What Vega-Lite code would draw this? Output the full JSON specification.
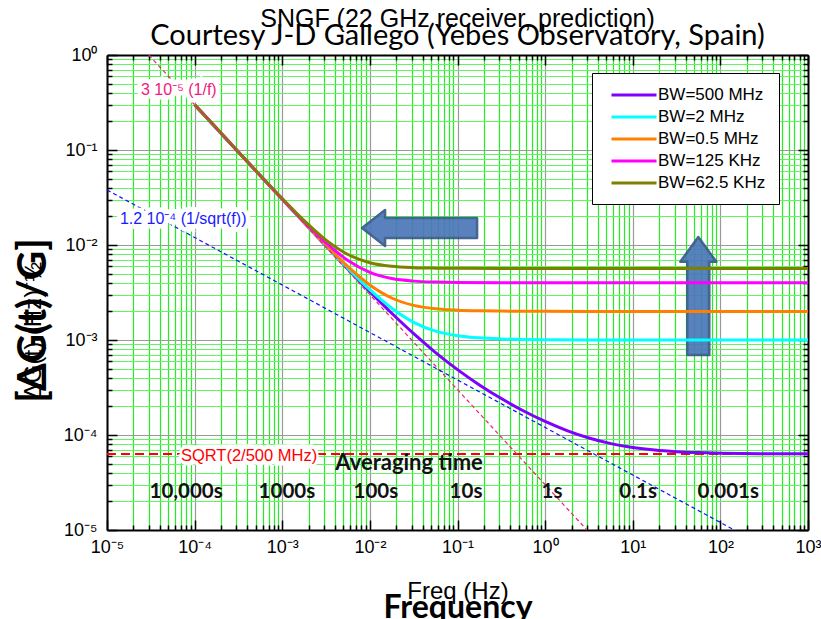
{
  "$schema": "https://vega.github.io/schema/vega-lite/v6.json",
  "width": 701,
  "height": 475,
  "autosize": {"type": "none"},
  "padding": {"left": 107, "top": 55, "right": 13, "bottom": 89},
  "background": "white",
  "config": {"view": {"stroke": null}},
  "title": {
    "text": "SNGF (22 GHz receiver, prediction)",
    "subtitle": "Courtesy J-D Gallego (Yebes Observatory, Spain)",
    "font": "Liberation Sans",
    "fontSize": 25,
    "fontWeight": "normal",
    "color": "black",
    "subtitleFont": "Lato",
    "subtitleFontSize": 29,
    "subtitleColor": "black",
    "subtitlePadding": -10,
    "offset": -5,
    "anchor": "middle"
  },
  "datasets": {
    "curves": [
      {"f": 0.0001, "v": 0.3002, "bw": "BW=500 MHz"},
      {"f": 0.0001778, "v": 0.1689, "bw": "BW=500 MHz"},
      {"f": 0.0003162, "v": 0.09511, "bw": "BW=500 MHz"},
      {"f": 0.0005623, "v": 0.05359, "bw": "BW=500 MHz"},
      {"f": 0.001, "v": 0.03024, "bw": "BW=500 MHz"},
      {"f": 0.001778, "v": 0.01711, "bw": "BW=500 MHz"},
      {"f": 0.003162, "v": 0.009724, "bw": "BW=500 MHz"},
      {"f": 0.005623, "v": 0.00557, "bw": "BW=500 MHz"},
      {"f": 0.01, "v": 0.003231, "bw": "BW=500 MHz"},
      {"f": 0.01778, "v": 0.001912, "bw": "BW=500 MHz"},
      {"f": 0.03162, "v": 0.001166, "bw": "BW=500 MHz"},
      {"f": 0.05623, "v": 0.000738, "bw": "BW=500 MHz"},
      {"f": 0.1, "v": 0.000488, "bw": "BW=500 MHz"},
      {"f": 0.1778, "v": 0.0003368, "bw": "BW=500 MHz"},
      {"f": 0.3162, "v": 0.0002419, "bw": "BW=500 MHz"},
      {"f": 0.5623, "v": 0.0001801, "bw": "BW=500 MHz"},
      {"f": 1, "v": 0.0001389, "bw": "BW=500 MHz"},
      {"f": 1.778, "v": 0.0001113, "bw": "BW=500 MHz"},
      {"f": 3.162, "v": 0.00009295, "bw": "BW=500 MHz"},
      {"f": 5.623, "v": 0.00008117, "bw": "BW=500 MHz"},
      {"f": 10, "v": 0.00007382, "bw": "BW=500 MHz"},
      {"f": 17.78, "v": 0.00006936, "bw": "BW=500 MHz"},
      {"f": 31.62, "v": 0.00006675, "bw": "BW=500 MHz"},
      {"f": 56.23, "v": 0.00006524, "bw": "BW=500 MHz"},
      {"f": 100, "v": 0.00006437, "bw": "BW=500 MHz"},
      {"f": 316.2, "v": 0.0000636, "bw": "BW=500 MHz"},
      {"f": 1000, "v": 0.00006336, "bw": "BW=500 MHz"},

      {"f": 0.0001, "v": 0.3002, "bw": "BW=2 MHz"},
      {"f": 0.0001778, "v": 0.1689, "bw": "BW=2 MHz"},
      {"f": 0.0003162, "v": 0.09511, "bw": "BW=2 MHz"},
      {"f": 0.0005623, "v": 0.0536, "bw": "BW=2 MHz"},
      {"f": 0.001, "v": 0.03026, "bw": "BW=2 MHz"},
      {"f": 0.001778, "v": 0.01714, "bw": "BW=2 MHz"},
      {"f": 0.003162, "v": 0.009775, "bw": "BW=2 MHz"},
      {"f": 0.005623, "v": 0.005659, "bw": "BW=2 MHz"},
      {"f": 0.01, "v": 0.003382, "bw": "BW=2 MHz"},
      {"f": 0.01778, "v": 0.002158, "bw": "BW=2 MHz"},
      {"f": 0.03162, "v": 0.001535, "bw": "BW=2 MHz"},
      {"f": 0.05623, "v": 0.001241, "bw": "BW=2 MHz"},
      {"f": 0.1, "v": 0.001111, "bw": "BW=2 MHz"},
      {"f": 0.1778, "v": 0.001053, "bw": "BW=2 MHz"},
      {"f": 0.3162, "v": 0.001027, "bw": "BW=2 MHz"},
      {"f": 0.5623, "v": 0.001014, "bw": "BW=2 MHz"},
      {"f": 1, "v": 0.001008, "bw": "BW=2 MHz"},
      {"f": 3.162, "v": 0.001002, "bw": "BW=2 MHz"},
      {"f": 10, "v": 0.001001, "bw": "BW=2 MHz"},
      {"f": 100, "v": 0.001, "bw": "BW=2 MHz"},
      {"f": 1000, "v": 0.001, "bw": "BW=2 MHz"},

      {"f": 0.0001, "v": 0.3003, "bw": "BW=0.5 MHz"},
      {"f": 0.0001778, "v": 0.169, "bw": "BW=0.5 MHz"},
      {"f": 0.0003162, "v": 0.09513, "bw": "BW=0.5 MHz"},
      {"f": 0.0005623, "v": 0.05362, "bw": "BW=0.5 MHz"},
      {"f": 0.001, "v": 0.03031, "bw": "BW=0.5 MHz"},
      {"f": 0.001778, "v": 0.01722, "bw": "BW=0.5 MHz"},
      {"f": 0.003162, "v": 0.009927, "bw": "BW=0.5 MHz"},
      {"f": 0.005623, "v": 0.005918, "bw": "BW=0.5 MHz"},
      {"f": 0.01, "v": 0.0038, "bw": "BW=0.5 MHz"},
      {"f": 0.01778, "v": 0.002767, "bw": "BW=0.5 MHz"},
      {"f": 0.03162, "v": 0.002314, "bw": "BW=0.5 MHz"},
      {"f": 0.05623, "v": 0.002131, "bw": "BW=0.5 MHz"},
      {"f": 0.1, "v": 0.002058, "bw": "BW=0.5 MHz"},
      {"f": 0.1778, "v": 0.002027, "bw": "BW=0.5 MHz"},
      {"f": 0.3162, "v": 0.002014, "bw": "BW=0.5 MHz"},
      {"f": 1, "v": 0.002004, "bw": "BW=0.5 MHz"},
      {"f": 10, "v": 0.002, "bw": "BW=0.5 MHz"},
      {"f": 1000, "v": 0.002, "bw": "BW=0.5 MHz"},

      {"f": 0.0001, "v": 0.3003, "bw": "BW=125 KHz"},
      {"f": 0.0001778, "v": 0.169, "bw": "BW=125 KHz"},
      {"f": 0.0003162, "v": 0.09519, "bw": "BW=125 KHz"},
      {"f": 0.0005623, "v": 0.05374, "bw": "BW=125 KHz"},
      {"f": 0.001, "v": 0.0305, "bw": "BW=125 KHz"},
      {"f": 0.001778, "v": 0.01757, "bw": "BW=125 KHz"},
      {"f": 0.003162, "v": 0.01051, "bw": "BW=125 KHz"},
      {"f": 0.005623, "v": 0.006857, "bw": "BW=125 KHz"},
      {"f": 0.01, "v": 0.005142, "bw": "BW=125 KHz"},
      {"f": 0.01778, "v": 0.004434, "bw": "BW=125 KHz"},
      {"f": 0.03162, "v": 0.004166, "bw": "BW=125 KHz"},
      {"f": 0.05623, "v": 0.004067, "bw": "BW=125 KHz"},
      {"f": 0.1, "v": 0.004029, "bw": "BW=125 KHz"},
      {"f": 0.3162, "v": 0.004007, "bw": "BW=125 KHz"},
      {"f": 1, "v": 0.004002, "bw": "BW=125 KHz"},
      {"f": 10, "v": 0.004, "bw": "BW=125 KHz"},
      {"f": 1000, "v": 0.004, "bw": "BW=125 KHz"},

      {"f": 0.0001, "v": 0.3003, "bw": "BW=62.5 KHz"},
      {"f": 0.0001778, "v": 0.169, "bw": "BW=62.5 KHz"},
      {"f": 0.0003162, "v": 0.09528, "bw": "BW=62.5 KHz"},
      {"f": 0.0005623, "v": 0.05389, "bw": "BW=62.5 KHz"},
      {"f": 0.001, "v": 0.03076, "bw": "BW=62.5 KHz"},
      {"f": 0.001778, "v": 0.01802, "bw": "BW=62.5 KHz"},
      {"f": 0.003162, "v": 0.01125, "bw": "BW=62.5 KHz"},
      {"f": 0.005623, "v": 0.007939, "bw": "BW=62.5 KHz"},
      {"f": 0.01, "v": 0.006515, "bw": "BW=62.5 KHz"},
      {"f": 0.01778, "v": 0.005971, "bw": "BW=62.5 KHz"},
      {"f": 0.03162, "v": 0.005775, "bw": "BW=62.5 KHz"},
      {"f": 0.05623, "v": 0.005704, "bw": "BW=62.5 KHz"},
      {"f": 0.1, "v": 0.005678, "bw": "BW=62.5 KHz"},
      {"f": 0.3162, "v": 0.005661, "bw": "BW=62.5 KHz"},
      {"f": 1, "v": 0.005658, "bw": "BW=62.5 KHz"},
      {"f": 10, "v": 0.005657, "bw": "BW=62.5 KHz"},
      {"f": 1000, "v": 0.005657, "bw": "BW=62.5 KHz"}
    ],
    "sqrtline": [{"f": 0.00001, "v": 0.0000632}, {"f": 1000, "v": 0.0000632}],
    "oneoverf": [{"f": 0.00003, "v": 1}, {"f": 3, "v": 0.00001}],
    "oneoversqrt": [{"f": 0.00001, "v": 0.03795}, {"f": 144, "v": 0.00001}],
    "notes": [
      {"t": "3 10⁻⁵ (1/f)", "f": 0.000066, "v": 0.428},
      {"t": "1.2 10⁻⁴ (1/sqrt(f))", "f": 0.000074, "v": 0.0188},
      {"t": "SQRT(2/500 MHz)", "f": 0.000418, "v": 0.00006}
    ],
    "avg": [
      {"t": "10,000s", "f": 0.00008, "v": 0.000025},
      {"t": "1000s", "f": 0.00113, "v": 0.000025},
      {"t": "100s", "f": 0.0117, "v": 0.000025},
      {"t": "10s", "f": 0.125, "v": 0.000025},
      {"t": "1s", "f": 1.2, "v": 0.000025},
      {"t": "0.1s", "f": 11.5, "v": 0.000025},
      {"t": "0.001s", "f": 123, "v": 0.000025}
    ]
  },
  "layer": [
    {
      "data": {"values": [{"f": 0.0369, "v": 0.0151}]},
      "mark": {"type": "point", "shape": "M-1,0 L-0.6,-0.313 L-0.6,-0.174 L1,-0.174 L1,0.174 L-0.6,0.174 L-0.6,0.313 Z", "size": 13225, "filled": true, "fill": "#4a77b8", "stroke": "#37598a", "strokeWidth": 2.5, "strokeJoin": "round", "opacity": 0.92},
      "encoding": {
        "x": {"field": "f", "type": "quantitative", "scale": {"type": "log", "domain": [0.00001, 1000], "nice": false}, "axis": null},
        "y": {"field": "v", "type": "quantitative", "scale": {"type": "log", "domain": [0.00001, 1], "nice": false}, "axis": null}
      }
    },
    {
      "data": {"values": [{"f": 56, "v": 0.0029}]},
      "mark": {"type": "point", "shape": "M0,-1 L0.305,-0.58 L0.186,-0.58 L0.186,1 L-0.186,1 L-0.186,-0.58 L-0.305,-0.58 Z", "size": 13924, "filled": true, "fill": "#4a77b8", "stroke": "#37598a", "strokeWidth": 2.5, "strokeJoin": "round", "opacity": 0.92},
      "encoding": {
        "x": {"field": "f", "type": "quantitative", "scale": {"type": "log", "domain": [0.00001, 1000], "nice": false}, "axis": null},
        "y": {"field": "v", "type": "quantitative", "scale": {"type": "log", "domain": [0.00001, 1], "nice": false}, "axis": null}
      }
    },
    {
      "data": {"name": "sqrtline"},
      "mark": {"type": "line", "color": "#ff0000", "strokeWidth": 2, "strokeDash": [9, 5]},
      "encoding": {
        "x": {"field": "f", "type": "quantitative", "scale": {"type": "log", "domain": [0.00001, 1000], "nice": false},
          "axis": {
            "orient": "top",
            "values": [0.00001,0.00002,0.00003,0.00004,0.00005,0.00006,0.00007,0.00008,0.00009,0.0001,0.0002,0.0003,0.0004,0.0005,0.0006,0.0007,0.0008,0.0009,0.001,0.002,0.003,0.004,0.005,0.006,0.007,0.008,0.009,0.01,0.02,0.03,0.04,0.05,0.06,0.07,0.08,0.09,0.1,0.2,0.3,0.4,0.5,0.6,0.7,0.8,0.9,1,2,3,4,5,6,7,8,9,10,20,30,40,50,60,70,80,90,100,200,300,400,500,600,700,800,900,1000],
            "labels": false,
            "grid": false,
            "tickColor": "black",
            "tickWidth": 1.5,
            "tickSize": {"condition": {"test": "abs(log(datum.value)/LN10 - round(log(datum.value)/LN10)) < 0.001", "value": -10}, "value": -5},
            "domainColor": "black",
            "domainWidth": 2,
            "title": "Freq (Hz)",
            "titleFont": "Liberation Sans",
            "titleFontSize": 24,
            "titleFontWeight": "normal",
            "titleColor": "black",
            "titleY": 543,
            "titleBaseline": "alphabetic"
          }
        },
        "y": {"field": "v", "type": "quantitative", "scale": {"type": "log", "domain": [0.00001, 1], "nice": false},
          "axis": {
            "orient": "right",
            "values": [0.00001,0.00002,0.00003,0.00004,0.00005,0.00006,0.00007,0.00008,0.00009,0.0001,0.0002,0.0003,0.0004,0.0005,0.0006,0.0007,0.0008,0.0009,0.001,0.002,0.003,0.004,0.005,0.006,0.007,0.008,0.009,0.01,0.02,0.03,0.04,0.05,0.06,0.07,0.08,0.09,0.1,0.2,0.3,0.4,0.5,0.6,0.7,0.8,0.9,1],
            "labels": false,
            "grid": false,
            "tickColor": "black",
            "tickWidth": 1.5,
            "tickSize": {"condition": {"test": "abs(log(datum.value)/LN10 - round(log(datum.value)/LN10)) < 0.001", "value": -10}, "value": -5},
            "domainColor": "black",
            "domainWidth": 2,
            "title": "ΔG(t) (Hz)⁻½",
            "titleFont": "Liberation Sans",
            "titleFontSize": 24,
            "titleFontWeight": "normal",
            "titleColor": "black",
            "titleAngle": -90,
            "titleX": -775,
            "titleY": 275,
            "titleBaseline": "middle",
            "titleAlign": "center"
          }
        }
      }
    },
    {
      "data": {"name": "curves"},
      "mark": {"type": "line", "strokeWidth": 3, "interpolate": "monotone"},
      "encoding": {
        "x": {"field": "f", "type": "quantitative", "scale": {"type": "log", "domain": [0.00001, 1000], "nice": false},
          "axis": {
            "orient": "bottom",
            "values": [0.00001,0.00002,0.00003,0.00004,0.00005,0.00006,0.00007,0.00008,0.00009,0.0001,0.0002,0.0003,0.0004,0.0005,0.0006,0.0007,0.0008,0.0009,0.001,0.002,0.003,0.004,0.005,0.006,0.007,0.008,0.009,0.01,0.02,0.03,0.04,0.05,0.06,0.07,0.08,0.09,0.1,0.2,0.3,0.4,0.5,0.6,0.7,0.8,0.9,1,2,3,4,5,6,7,8,9,10,20,30,40,50,60,70,80,90,100,200,300,400,500,600,700,800,900,1000],
            "labelExpr": "abs(log(datum.value)/LN10 - round(log(datum.value)/LN10)) < 0.001 ? ['10⁻⁵','10⁻⁴','10⁻³','10⁻²','10⁻¹','10⁰','10¹','10²','10³'][round(log(datum.value)/LN10)+5] : ''",
            "labelFont": "Liberation Sans",
            "labelFontSize": 18,
            "labelColor": "black",
            "labelPadding": 18,
            "labelFlush": false,
            "labelOverlap": false,
            "labelBound": false,
            "grid": true,
            "gridColor": {"condition": {"test": "abs(log(datum.value)/LN10 - round(log(datum.value)/LN10)) < 0.001", "value": "#999999"}, "value": "#22ee22"},
            "gridWidth": 1.2,
            "tickColor": "black",
            "tickWidth": 1.5,
            "tickSize": {"condition": {"test": "abs(log(datum.value)/LN10 - round(log(datum.value)/LN10)) < 0.001", "value": -10}, "value": -5},
            "domainColor": "black",
            "domainWidth": 2,
            "title": "Frequency",
            "titleFont": "Lato",
            "titleFontSize": 32,
            "titleFontWeight": "bold",
            "titleColor": "black",
            "titleY": 87,
            "titleBaseline": "alphabetic"
          }
        },
        "y": {"field": "v", "type": "quantitative", "scale": {"type": "log", "domain": [0.00001, 1], "nice": false},
          "axis": {
            "orient": "left",
            "values": [0.00001,0.00002,0.00003,0.00004,0.00005,0.00006,0.00007,0.00008,0.00009,0.0001,0.0002,0.0003,0.0004,0.0005,0.0006,0.0007,0.0008,0.0009,0.001,0.002,0.003,0.004,0.005,0.006,0.007,0.008,0.009,0.01,0.02,0.03,0.04,0.05,0.06,0.07,0.08,0.09,0.1,0.2,0.3,0.4,0.5,0.6,0.7,0.8,0.9,1],
            "labelExpr": "abs(log(datum.value)/LN10 - round(log(datum.value)/LN10)) < 0.001 ? ['10⁻⁵','10⁻⁴','10⁻³','10⁻²','10⁻¹','10⁰'][round(log(datum.value)/LN10)+5] : ''",
            "labelFont": "Liberation Sans",
            "labelFontSize": 18,
            "labelColor": "black",
            "labelPadding": 20,
            "labelFlush": false,
            "labelOverlap": false,
            "labelBound": false,
            "grid": true,
            "gridColor": {"condition": {"test": "abs(log(datum.value)/LN10 - round(log(datum.value)/LN10)) < 0.001", "value": "#999999"}, "value": "#5ef55e"},
            "gridWidth": 1.2,
            "tickColor": "black",
            "tickWidth": 1.5,
            "tickSize": {"condition": {"test": "abs(log(datum.value)/LN10 - round(log(datum.value)/LN10)) < 0.001", "value": -10}, "value": -5},
            "domainColor": "black",
            "domainWidth": 2,
            "title": "[ΔG(t)/G]",
            "titleFont": "Lato",
            "titleFontSize": 40,
            "titleFontWeight": "bold",
            "titleColor": "black",
            "titleAngle": -90,
            "titleX": -74,
            "titleY": 265,
            "titleBaseline": "middle",
            "titleAlign": "center"
          }
        },
        "color": {
          "field": "bw",
          "type": "nominal",
          "sort": ["BW=500 MHz", "BW=2 MHz", "BW=0.5 MHz", "BW=125 KHz", "BW=62.5 KHz"],
          "scale": {"domain": ["BW=500 MHz", "BW=2 MHz", "BW=0.5 MHz", "BW=125 KHz", "BW=62.5 KHz"], "range": ["#8000ff", "#00ffff", "#ff8000", "#ff00ff", "#808000"]},
          "legend": {
            "orient": "none",
            "legendX": 485,
            "legendY": 18,
            "title": null,
            "fillColor": "white",
            "strokeColor": "black",
            "padding": 13,
            "symbolType": "M-3,0H3",
            "symbolSize": 225,
            "symbolStrokeWidth": 3,
            "symbolOffset": 20,
            "labelOffset": 15,
            "labelFont": "Liberation Sans",
            "labelFontSize": 17,
            "labelColor": "black",
            "rowPadding": 5
          }
        }
      }
    },
    {
      "data": {"name": "oneoverf"},
      "mark": {"type": "line", "color": "#f0207a", "strokeWidth": 1.2, "strokeDash": [4, 3]},
      "encoding": {
        "x": {"field": "f", "type": "quantitative", "scale": {"type": "log", "domain": [0.00001, 1000], "nice": false}, "axis": null},
        "y": {"field": "v", "type": "quantitative", "scale": {"type": "log", "domain": [0.00001, 1], "nice": false}, "axis": null}
      }
    },
    {
      "data": {"name": "oneoversqrt"},
      "mark": {"type": "line", "color": "#1010ff", "strokeWidth": 1.2, "strokeDash": [4, 3]},
      "encoding": {
        "x": {"field": "f", "type": "quantitative", "scale": {"type": "log", "domain": [0.00001, 1000], "nice": false}, "axis": null},
        "y": {"field": "v", "type": "quantitative", "scale": {"type": "log", "domain": [0.00001, 1], "nice": false}, "axis": null}
      }
    },
    {
      "data": {"name": "notes"},
      "mark": {"type": "text", "font": "Liberation Sans", "fontSize": 16, "fill": "white", "stroke": "white", "strokeWidth": 9, "strokeJoin": "miter"},
      "encoding": {
        "x": {"field": "f", "type": "quantitative", "scale": {"type": "log", "domain": [0.00001, 1000], "nice": false}, "axis": null},
        "y": {"field": "v", "type": "quantitative", "scale": {"type": "log", "domain": [0.00001, 1], "nice": false}, "axis": null},
        "text": {"field": "t"}
      }
    },
    {
      "data": {"values": [{"t": "3 10⁻⁵ (1/f)", "f": 0.000066, "v": 0.428}]},
      "mark": {"type": "text", "font": "Liberation Sans", "fontSize": 16, "color": "#f0207a"},
      "encoding": {
        "x": {"field": "f", "type": "quantitative", "scale": {"type": "log", "domain": [0.00001, 1000], "nice": false}, "axis": null},
        "y": {"field": "v", "type": "quantitative", "scale": {"type": "log", "domain": [0.00001, 1], "nice": false}, "axis": null},
        "text": {"field": "t"}
      }
    },
    {
      "data": {"values": [{"t": "1.2 10⁻⁴ (1/sqrt(f))", "f": 0.000074, "v": 0.0188}]},
      "mark": {"type": "text", "font": "Liberation Sans", "fontSize": 16, "color": "#1a1aff"},
      "encoding": {
        "x": {"field": "f", "type": "quantitative", "scale": {"type": "log", "domain": [0.00001, 1000], "nice": false}, "axis": null},
        "y": {"field": "v", "type": "quantitative", "scale": {"type": "log", "domain": [0.00001, 1], "nice": false}, "axis": null},
        "text": {"field": "t"}
      }
    },
    {
      "data": {"values": [{"t": "SQRT(2/500 MHz)", "f": 0.000418, "v": 0.00006}]},
      "mark": {"type": "text", "font": "Liberation Sans", "fontSize": 16.5, "color": "#ff0000"},
      "encoding": {
        "x": {"field": "f", "type": "quantitative", "scale": {"type": "log", "domain": [0.00001, 1000], "nice": false}, "axis": null},
        "y": {"field": "v", "type": "quantitative", "scale": {"type": "log", "domain": [0.00001, 1], "nice": false}, "axis": null},
        "text": {"field": "t"}
      }
    },
    {
      "data": {"values": [{"t": "Averaging time", "f": 0.028, "v": 0.000051}]},
      "mark": {"type": "text", "font": "Lato", "fontSize": 22, "fontWeight": "bold", "color": "#111111"},
      "encoding": {
        "x": {"field": "f", "type": "quantitative", "scale": {"type": "log", "domain": [0.00001, 1000], "nice": false}, "axis": null},
        "y": {"field": "v", "type": "quantitative", "scale": {"type": "log", "domain": [0.00001, 1], "nice": false}, "axis": null},
        "text": {"field": "t"}
      }
    },
    {
      "data": {"name": "avg"},
      "mark": {"type": "text", "font": "Lato", "fontSize": 20.5, "fontWeight": "bold", "color": "#111111"},
      "encoding": {
        "x": {"field": "f", "type": "quantitative", "scale": {"type": "log", "domain": [0.00001, 1000], "nice": false}, "axis": null},
        "y": {"field": "v", "type": "quantitative", "scale": {"type": "log", "domain": [0.00001, 1], "nice": false}, "axis": null},
        "text": {"field": "t"}
      }
    }
  ],
  "resolve": {"axis": {"x": "independent", "y": "independent"}}
}
